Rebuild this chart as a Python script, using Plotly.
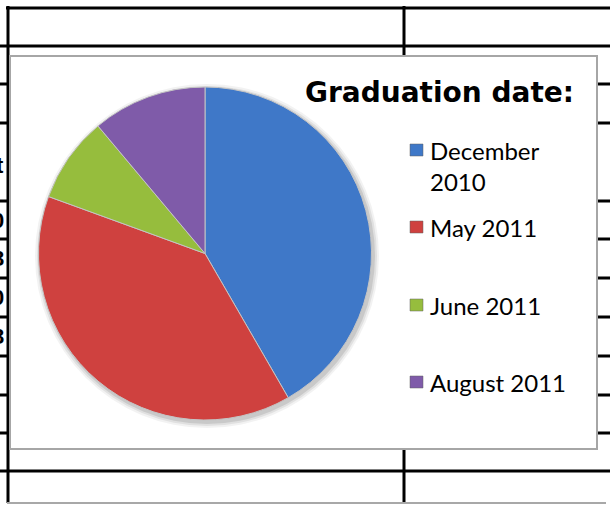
import plotly.graph_objects as go

# graduation date counts
labels = ["December 2010", "May 2011", "June 2011", "August 2011"]
legend_text = ["December<br>2010", "May 2011", "June 2011", "August 2011"]
counts = [15, 14, 3, 4]
colors = ["#3f78c8", "#cf413f", "#96bd3d", "#7f5ba9"]

W, H = 610, 505


def px(x):
    return x / W


def py(y):
    return 1 - y / H


shapes = []


def hline(y, x0, x1, color="black", w=3):
    shapes.append(dict(type="line", xref="paper", yref="paper", layer="below",
                       x0=px(x0), x1=px(x1), y0=py(y), y1=py(y),
                       line=dict(color=color, width=w)))


def vline(x, y0, y1, color="black", w=3):
    shapes.append(dict(type="line", xref="paper", yref="paper", layer="below",
                       x0=px(x), x1=px(x), y0=py(y0), y1=py(y1),
                       line=dict(color=color, width=w)))


# worksheet table behind the chart
hline(8, 6, 610)
for y in [46, 84, 123, 201, 239, 278, 317, 356, 395, 433, 471]:
    hline(y, 0, 610)
vline(8, 6, 503)
vline(404, 6, 503)
hline(503, 7, 606, color="#a8a8a8", w=2)

# chart area
shapes.append(dict(type="rect", xref="paper", yref="paper", layer="below",
                   x0=px(10), x1=px(597), y0=py(56), y1=py(449),
                   fillcolor="white", line=dict(color="#a6a6a6", width=2)))

# soft shadow under the pie
for r, a in [(172, 0.05), (170, 0.07), (168, 0.10)]:
    cx, cy = 207, 256
    shapes.append(dict(type="circle", xref="paper", yref="paper", layer="below",
                       x0=px(cx - r), x1=px(cx + r), y0=py(cy + r), y1=py(cy - r),
                       fillcolor=f"rgba(0,0,0,{a})", line=dict(width=0)))

fig = go.Figure(go.Pie(
    labels=labels, values=counts, sort=False, direction="clockwise", rotation=0,
    marker=dict(colors=colors, line=dict(color="#c4c4c4", width=1)),
    textinfo="none", hoverinfo="label+value",
    domain=dict(x=[px(38), px(372)], y=[py(420), py(87)]),
))

annotations = [dict(text="<b>Graduation date:</b>", xref="paper", yref="paper",
                    x=px(439), y=py(93), xanchor="center", yanchor="middle",
                    showarrow=False, font=dict(family="DejaVu Sans", size=28, color="black"))]

# legend drawn by hand to keep Excel's uneven spacing
item_y = [150, 227, 305, 382]
for lab, col, y in zip(legend_text, colors, item_y):
    shapes.append(dict(type="rect", xref="paper", yref="paper", layer="above",
                       x0=px(410), x1=px(423), y0=py(y + 6), y1=py(y - 6),
                       fillcolor=col, line=dict(color="#606060", width=0.5)))
    annotations.append(dict(text=lab, xref="paper", yref="paper",
                            x=px(428), y=py(y - 16), xanchor="left", yanchor="top",
                            align="left", showarrow=False,
                            font=dict(family="Lato", size=24, color="black")))

# clipped text from the neighbouring cells on the left
for t, y in zip(["t", "0", "8", "0", "8"], [165, 221, 258, 297, 336]):
    annotations.append(dict(text=f"<b>{t}</b>", xref="paper", yref="paper",
                            x=px(6), y=py(y), xanchor="right", yanchor="middle",
                            showarrow=False, font=dict(family="Liberation Sans", size=22, color="black")))

fig.update_layout(width=W, height=H, margin=dict(l=0, r=0, t=0, b=0),
                  paper_bgcolor="white", plot_bgcolor="white",
                  showlegend=False, shapes=shapes, annotations=annotations)

fig.write_html("out.html", config={"displayModeBar": False},
               post_script="document.body.style.margin='0';")
